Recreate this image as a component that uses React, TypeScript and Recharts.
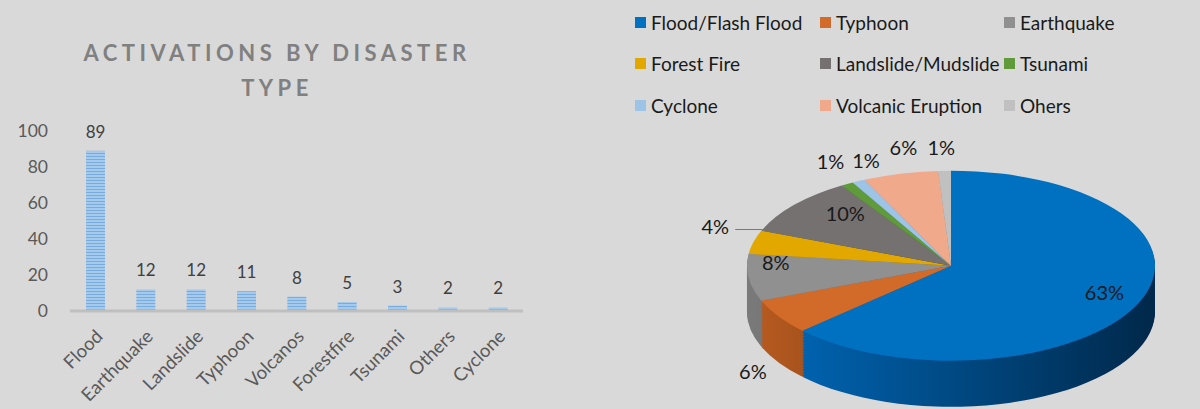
import React from 'react'
import { BarChart, Bar, XAxis, YAxis, LabelList, PieChart, Pie, Cell } from 'recharts'

// bar chart data
const categories = ['Flood', 'Earthquake', 'Landslide', 'Typhoon', 'Volcanos', 'Forestfire', 'Tsunami', 'Others', 'Cyclone']
const activations = [89, 12, 12, 11, 8, 5, 3, 2, 2]
const yTicks = [0, 20, 40, 60, 80, 100]

// pie chart data (shares in %)
const pieNames = ['Flood/Flash Flood', 'Typhoon', 'Earthquake', 'Forest Fire', 'Landslide/Mudslide', 'Tsunami', 'Cyclone', 'Volcanic Eruption', 'Ohers']
const pieShares = [63, 6, 8, 4, 10, 1, 1, 6, 1]

const COLORS = ['#0070c0', '#d26b29', '#909090', '#e2a800', '#757171', '#5f9a3b', '#9dc3e6', '#f0a98b', '#c0c0c0']
const SIDE_FROM = ['#0062ae', '#b55a20', '#7a7a7a', '#c08f00', '#5f5b5b', '#4e8030', '#7fa6cc', '#d48e72', '#a3a3a3']
const SIDE_TO = ['#00284a', '#7a3a12', '#555555', '#806000', '#403d3d', '#33561f', '#5a7a99', '#a06651', '#7a7a7a']

// label placement per slice: radius factor, angle tweak (deg), extra screen offset
const LABEL_R = [0.8, 1.15, 0.86, 1.23, 0.76, 1.25, 1.19, 1.27, 1.25]
const LABEL_ANG = [3.5, 0, -10, -5.6, -7.4, -2.4, -6.5, -3.8, 0.4]
const LABEL_DY = [0, 47, 0, 0, 0, 0, 0, 0, 0]

const FONT = 'Lato, "Noto Sans", sans-serif'
const BG = '#d9d9d9'

const barData = categories.map((name, i) => ({ name, value: activations[i] }))
const pieData = pieNames.map((name, i) => ({ name, value: pieShares[i] }))

// pie is drawn flat then squashed to look 3D
const SY = 0.4657
const PIE_W = 500
const PIE_H = 610
const CX = 250
const CY = 300
const R = 204
const DEPTH = 99
const LAYERS = 30
const RAD = Math.PI / 180
const PIE_CENTER_X = 951
const PIE_CENTER_Y = 266

const XTick = (props: any) => {
  const { x, y, payload } = props
  return (
    <g transform={`translate(${x + 4},${y + 14}) rotate(-45)`}>
      <text x={0} y={0} dy="0.35em" textAnchor="end" fill="#595959" fontSize={18.5} fontFamily={FONT}>
        {payload.value}
      </text>
    </g>
  )
}

const renderPieLabel = (props: any) => {
  const { cx, cy, midAngle, percent, index } = props
  const r = R * LABEL_R[index]
  const a = (midAngle + LABEL_ANG[index]) * RAD
  const x = cx + r * Math.cos(-a)
  const y = cy + r * Math.sin(-a) + LABEL_DY[index] / SY
  const txt = `${Math.round(percent * 100)}%`
  let leader = null
  if (index === 3) {
    const ly = y + 4 / SY
    leader = <path d={`M${x + 20},${ly}L${x + 47},${ly}`} stroke="#262626" strokeWidth={1.2} fill="none" />
  }
  return (
    <g>
      {leader}
      <text
        transform={`translate(${x} ${y}) scale(1 ${1 / SY})`}
        x={0}
        y={0}
        textAnchor="middle"
        dominantBaseline="central"
        fill="#1a1a1a"
        fontSize={20}
        fontFamily={FONT}
      >
        {txt}
      </text>
    </g>
  )
}

const layerOffsets = Array.from({ length: LAYERS }, (_, k) => DEPTH * (LAYERS - k) / LAYERS)

const legendCols = [635, 820, 1004]
const legendRows = [22, 63, 105]

export default function App() {
  return (
    <div style={{ position: 'absolute', left: 0, top: 0, width: 1200, height: 409, background: BG, overflow: 'hidden', fontFamily: FONT }}>
      <svg width={0} height={0} style={{ position: 'absolute' }}>
        <defs>
          <pattern id="stripes" width={4} height={3} patternUnits="userSpaceOnUse">
            <rect width={4} height={3} fill="#a6caec" />
            <rect width={4} height={1} fill="#78abde" />
          </pattern>
          {SIDE_FROM.map((c, i) => (
            <linearGradient key={i} id={`side-${i}`} x1="0" y1="0" x2="1" y2="0">
              <stop offset="0%" stopColor={c} />
              <stop offset="100%" stopColor={SIDE_TO[i]} />
            </linearGradient>
          ))}
        </defs>
      </svg>

      <div style={{ position: 'absolute', left: 2, top: 35, width: 550, textAlign: 'center', color: '#808080', fontWeight: 700, fontSize: 22, letterSpacing: 4.5, lineHeight: '35px' }}>
        ACTIVATIONS BY DISASTER<br />TYPE
      </div>

      <div style={{ position: 'absolute', left: 0, top: 0 }}>
        <BarChart width={530} height={409} data={barData} margin={{ top: 131, right: 7, bottom: 0, left: 8 }}>
          <XAxis
            dataKey="name"
            height={98}
            interval={0}
            tick={<XTick />}
            tickLine={false}
            axisLine={{ stroke: '#bfbfbf', strokeWidth: 3 }}
          />
          <YAxis
            width={62}
            domain={[0, 100]}
            ticks={yTicks}
            axisLine={false}
            tickLine={false}
            tickMargin={16}
            tick={{ fill: '#595959', fontSize: 17.5, fontFamily: FONT }}
          />
          <Bar dataKey="value" fill="url(#stripes)" barSize={19} isAnimationActive={false}>
            <LabelList dataKey="value" position="top" offset={13} fill="#404040" fontSize={17} fontFamily={FONT} />
          </Bar>
        </BarChart>
      </div>

      {pieNames.map((name, i) => (
        <div
          key={name}
          style={{
            position: 'absolute',
            left: legendCols[i % 3],
            top: legendRows[Math.floor(i / 3)] - 12,
            height: 24,
            display: 'flex',
            alignItems: 'center',
            whiteSpace: 'nowrap',
            fontSize: 19,
            color: '#1a1a1a',
          }}
        >
          <span style={{ display: 'inline-block', width: 11, height: 11, background: COLORS[i], marginRight: 5 }} />
          {name}
        </div>
      ))}

      <div
        style={{
          position: 'absolute',
          left: PIE_CENTER_X - CX,
          top: PIE_CENTER_Y - CY * SY,
          width: PIE_W,
          height: PIE_H,
          transform: `scaleY(${SY})`,
          transformOrigin: 'top left',
        }}
      >
        <PieChart width={PIE_W} height={PIE_H} margin={{ top: 0, right: 0, bottom: 0, left: 0 }}>
          {layerOffsets.map((off) => (
            <Pie
              key={`layer-${off}`}
              data={pieData}
              dataKey="value"
              cx={CX}
              cy={CY + off}
              outerRadius={R}
              startAngle={90}
              endAngle={-270}
              stroke="none"
              isAnimationActive={false}
            >
              {pieData.map((_, i) => (
                <Cell key={i} fill={`url(#side-${i})`} />
              ))}
            </Pie>
          ))}
          <Pie
            data={pieData}
            dataKey="value"
            cx={CX}
            cy={CY}
            outerRadius={R}
            startAngle={90}
            endAngle={-270}
            stroke="none"
            labelLine={false}
            label={renderPieLabel}
            isAnimationActive={false}
          >
            {pieData.map((_, i) => (
              <Cell key={i} fill={COLORS[i]} />
            ))}
          </Pie>
        </PieChart>
      </div>
    </div>
  )
}
